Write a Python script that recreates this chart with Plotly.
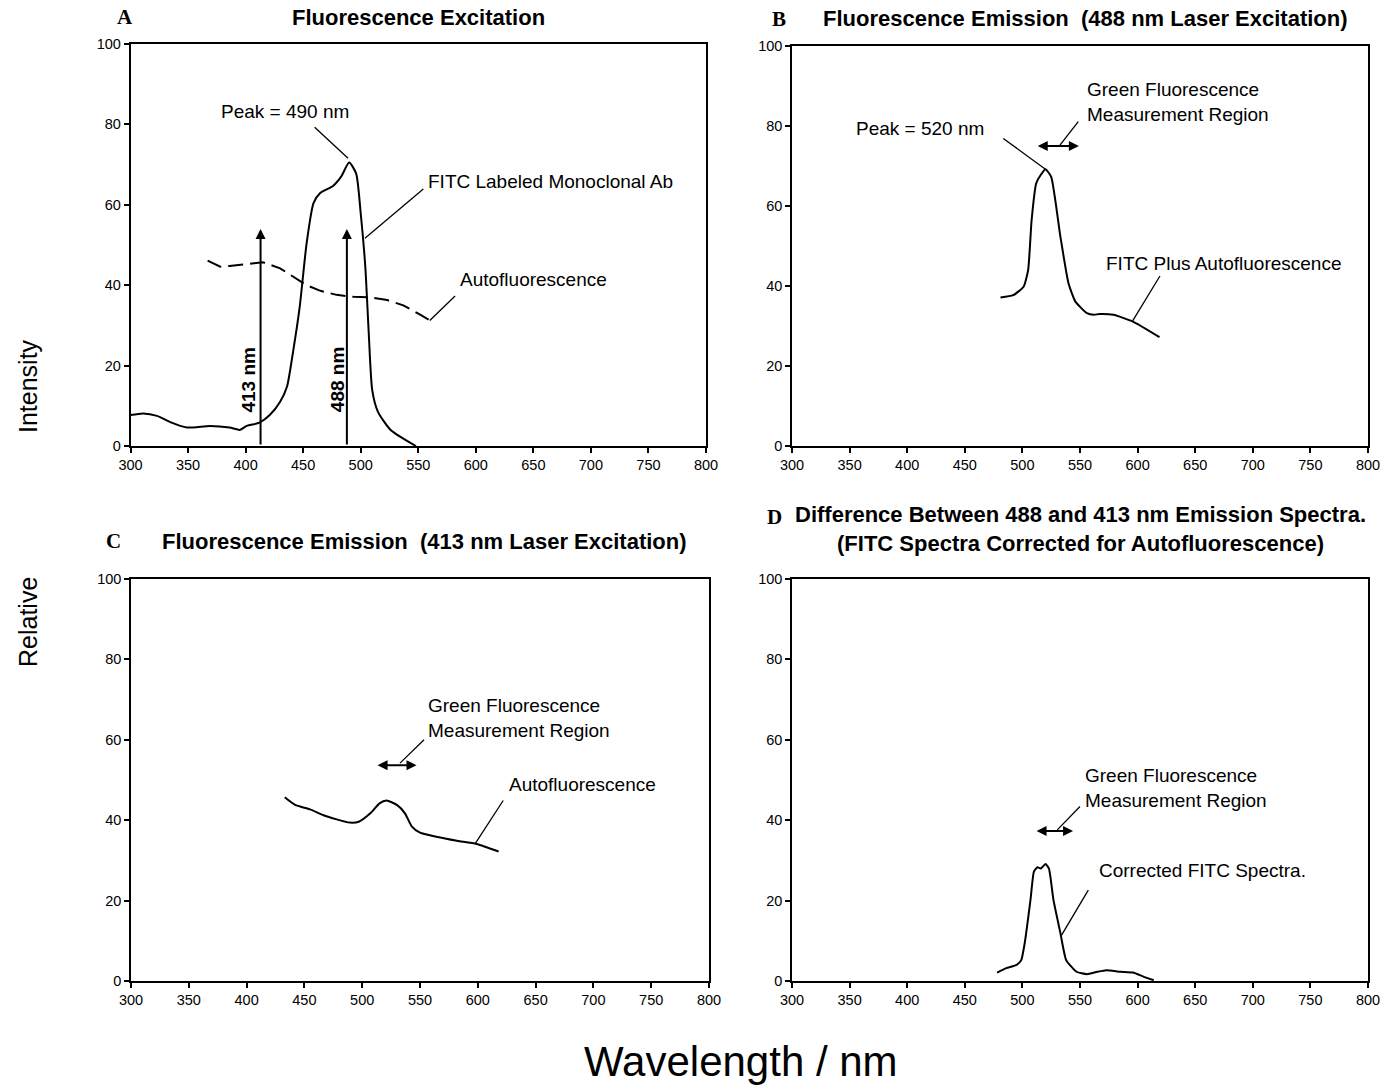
import plotly.graph_objects as go

W, H = 1391, 1089

# ---- Panel A: excitation spectra ----
exc_fitc_nm = [300, 311, 323, 334, 349, 369, 386, 395, 401, 412, 421, 430, 436, 441,
               447, 453, 459, 465, 476, 483, 490, 496, 500, 504, 507, 510, 515, 526, 548]
exc_fitc_int = [7.7, 8.1, 7.5, 6.0, 4.6, 5.0, 4.6, 4.0, 5.0, 5.8, 7.7, 11.0, 14.8, 23.0,
                34.6, 50.4, 60.4, 63.0, 64.7, 67.0, 70.5, 67.8, 57.9, 44.6, 28.0, 13.9, 8.5, 4.0, 0.0]
exc_auto_nm = [367, 378, 386, 401, 415, 430, 441, 453, 465, 479, 494, 508, 523, 537, 552, 560]
exc_auto_int = [46.1, 44.6, 44.8, 45.3, 45.7, 44.2, 42.1, 40.0, 38.6, 37.6, 37.1, 37.0,
                36.3, 35.0, 32.6, 31.3]
laser_nm = [413, 488]
laser_labels = ["413 nm", "488 nm"]
laser_arrow_top = 54

# ---- Panel B: emission with 488 nm excitation ----
em488_nm = [481, 492, 501, 505, 508, 512, 516, 520, 525, 533, 540, 546, 556, 562, 567,
            579, 596, 619]
em488_int = [37.1, 37.7, 39.8, 44.0, 56.5, 65.7, 67.8, 69.2, 67.3, 52.3, 40.7, 36.1,
             33.2, 32.8, 33.0, 32.8, 31.1, 27.2]

# ---- Panel C: emission with 413 nm excitation ----
em413_nm = [433, 442, 455, 466, 478, 489, 497, 507, 515, 521, 530, 537, 543, 550, 564,
            582, 599, 618]
em413_int = [45.7, 43.8, 42.7, 41.3, 40.2, 39.4, 39.6, 41.7, 44.2, 44.9, 43.8, 41.7,
             38.4, 36.9, 35.9, 34.9, 34.1, 32.2]

# ---- Panel D: difference spectrum (488 minus 413) ----
diff_nm = [478, 486, 495, 499, 502, 507, 510, 513, 516, 520, 523, 527, 533, 538, 547,
           556, 565, 573, 585, 596, 605, 614]
diff_int = [2.1, 3.2, 4.0, 5.2, 9.4, 20.1, 27.2, 28.3, 28.0, 29.1, 28.0, 20.1, 11.9,
            5.2, 2.3, 1.7, 2.3, 2.7, 2.3, 2.1, 1.1, 0.2]

x_ticks = [300, 350, 400, 450, 500, 550, 600, 650, 700, 750, 800]
y_ticks = [0, 20, 40, 60, 80, 100]

FONT = "Liberation Sans, Arial, sans-serif"
SERIF = "Liberation Serif, Times New Roman, serif"


def px(x):
    """page x pixel -> paper fraction"""
    return x / W


def py(y):
    """page y pixel -> paper fraction"""
    return 1 - y / H


# plot rectangles in page pixels: (left, right, top, bottom)
boxes = {
    "1": (130.5, 706, 44, 446),
    "2": (792, 1368, 46, 446),
    "3": (131, 709, 579, 981),
    "4": (792, 1368, 579, 981),
}

fig = go.Figure()

fig.add_trace(go.Scatter(x=exc_fitc_nm, y=exc_fitc_int, mode="lines",
                         line=dict(color="black", width=2, shape="spline", smoothing=0.6),
                         xaxis="x", yaxis="y", showlegend=False))
fig.add_trace(go.Scatter(x=exc_auto_nm, y=exc_auto_int, mode="lines",
                         line=dict(color="black", width=2, dash="15px,7px"),
                         xaxis="x", yaxis="y", showlegend=False))
fig.add_trace(go.Scatter(x=em488_nm, y=em488_int, mode="lines",
                         line=dict(color="black", width=2, shape="spline", smoothing=0.5),
                         xaxis="x2", yaxis="y2", showlegend=False))
fig.add_trace(go.Scatter(x=em413_nm, y=em413_int, mode="lines",
                         line=dict(color="black", width=2, shape="spline", smoothing=0.6),
                         xaxis="x3", yaxis="y3", showlegend=False))
fig.add_trace(go.Scatter(x=diff_nm, y=diff_int, mode="lines",
                         line=dict(color="black", width=2, shape="spline", smoothing=0.5),
                         xaxis="x4", yaxis="y4", showlegend=False))

layout = dict(
    width=W, height=H,
    margin=dict(l=0, r=0, t=0, b=0, pad=0, autoexpand=False),
    paper_bgcolor="white", plot_bgcolor="white",
    font=dict(family=FONT, color="black"),
)

tick_font = dict(family=FONT, size=14.5, color="black")

for k, (l, r, t, b) in boxes.items():
    xa = "xaxis" if k == "1" else "xaxis" + k
    ya = "yaxis" if k == "1" else "yaxis" + k
    yname = "y" if k == "1" else "y" + k
    xname = "x" if k == "1" else "x" + k
    layout[xa] = dict(
        domain=[px(l), px(r)], range=[300, 800], anchor=yname, automargin=False,
        tickvals=x_ticks, ticks="outside", ticklen=5, tickwidth=1.5, tickcolor="black",
        showline=True, linecolor="black", linewidth=1.5, mirror=True,
        showgrid=False, zeroline=False, tickfont=tick_font,
    )
    layout[ya] = dict(
        domain=[py(b), py(t)], range=[0, 100], anchor=xname, automargin=False,
        tickvals=y_ticks, ticks="outside", ticklen=5, tickwidth=1.5, tickcolor="black",
        showline=True, linecolor="black", linewidth=1.5, mirror=True,
        showgrid=False, zeroline=False, tickfont=tick_font,
    )

fig.update_layout(**layout)

ann = []
shapes = []

# panel titles and letters
titles = [
    ("A", 125, 17, "Fluorescence Excitation", 419, 18),
    ("B", 779, 19, "Fluorescence Emission  (488 nm Laser Excitation)", 1085, 19),
    ("C", 113, 541, "Fluorescence Emission  (413 nm Laser Excitation)", 424, 541),
    ("D", 774, 517, "Difference Between 488 and 413 nm Emission Spectra.<br>"
                    "(FITC Spectra Corrected for Autofluorescence)", 1080, 529),
]
for letter, lx, ly, title, tx, ty in titles:
    ann.append(dict(text="<b>%s</b>" % letter, x=px(lx), y=py(ly), xref="paper",
                    yref="paper", showarrow=False, xanchor="center", yanchor="middle",
                    font=dict(family=SERIF, size=21, color="black")))
    ann.append(dict(text="<b>%s</b>" % title, x=px(tx), y=py(ty), xref="paper",
                    yref="paper", showarrow=False, xanchor="center", yanchor="middle",
                    font=dict(family=FONT, size=22, color="black")))

# shared axis titles
ann.append(dict(text="Intensity", x=px(28), y=py(386), xref="paper", yref="paper",
                xanchor="center", yanchor="middle",
                showarrow=False, textangle=-90, font=dict(family=FONT, size=25)))
ann.append(dict(text="Relative", x=px(28), y=py(622), xref="paper", yref="paper",
                xanchor="center", yanchor="middle",
                showarrow=False, textangle=-90, font=dict(family=FONT, size=25)))
ann.append(dict(text="Wavelength / nm", x=px(741), y=py(1061), xref="paper",
                yref="paper", xanchor="center", yanchor="middle",
                showarrow=False, font=dict(family=FONT, size=42)))

label_font = dict(family=FONT, size=19, color="black")


def label(text, x, y, axis, anchor="left"):
    ann.append(dict(text=text, x=x, y=y, xref="x" + axis, yref="y" + axis,
                    showarrow=False, xanchor=anchor, yanchor="middle", align="left",
                    font=label_font))


def leader(x0, y0, x1, y1, axis):
    shapes.append(dict(type="line", x0=x0, y0=y0, x1=x1, y1=y1, xref="x" + axis,
                       yref="y" + axis, line=dict(color="black", width=1.3)))


def span(x0, x1, y, axis):
    ann.append(dict(x=x1, y=y, ax=x0, ay=y, xref="x" + axis, yref="y" + axis,
                    axref="x" + axis, ayref="y" + axis, text="", showarrow=True,
                    arrowhead=2, arrowside="end+start", arrowsize=1, arrowwidth=2,
                    arrowcolor="black"))


# Panel A annotations
label("Peak = 490 nm", 434, 83.3, "", anchor="center")
leader(460, 79.3, 489, 71.6, "")
label("FITC Labeled Monoclonal Ab", 557, 65.7, "")
leader(554.4, 63.9, 503.7, 51.7, "")
label("Autofluorescence", 584.5, 41.3, "")
leader(582, 37.3, 560, 31.2, "")
for nm, txt, dx in zip(laser_nm, laser_labels, [-10.5, -8.5]):
    ann.append(dict(x=nm, y=laser_arrow_top, ax=nm, ay=0, xref="x", yref="y",
                    axref="x", ayref="y", text="", showarrow=True, arrowhead=2,
                    arrowsize=1, arrowwidth=2, arrowcolor="black"))
    ann.append(dict(text="<b>%s</b>" % txt, x=nm + dx, y=16.4, xref="x", yref="y",
                    showarrow=False, textangle=-90, xanchor="center", yanchor="middle",
                    font=dict(family=FONT, size=19, color="black")))

# Panel B annotations
label("Peak = 520 nm", 411, 79.5, "2", anchor="center")
leader(483.4, 76.9, 520, 69.2, "2")
label("Green Fluorescence<br>Measurement Region", 554.5, 86, "2")
leader(548.5, 81.1, 532.6, 75.2, "2")
span(512, 549, 75, "2")
label("FITC Plus Autofluorescence", 571, 45.75, "2")
leader(619.4, 42.5, 595.7, 31.3, "2")

# Panel C annotations
label("Green Fluorescence<br>Measurement Region", 555.5, 65.4, "3")
leader(553.5, 60, 532.7, 54.2, "3")
span(512, 547, 53.7, "3")
label("Autofluorescence", 625, 49, "3")
leader(622, 44.9, 597.6, 34.1, "3")

# Panel D annotations
label("Green Fluorescence<br>Measurement Region", 553, 48, "4")
leader(550, 43.4, 530.3, 37.6, "4")
span(511, 544, 37.3, "4")
label("Corrected FITC Spectra.", 564.5, 27.4, "4")
leader(557.2, 22.6, 534, 11.4, "4")

fig.update_layout(annotations=ann, shapes=shapes)

fig.write_html("out.html")
